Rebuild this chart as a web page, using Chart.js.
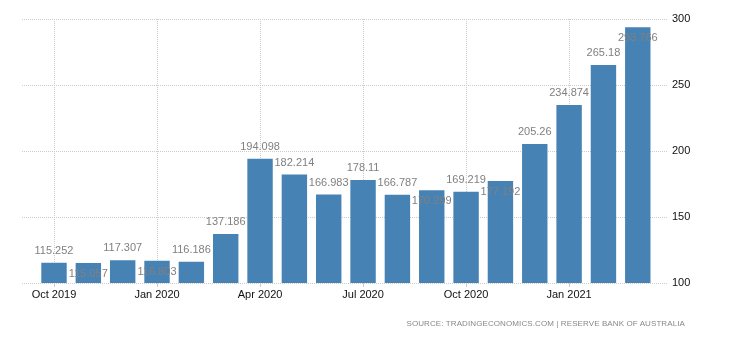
<!DOCTYPE html>
<html>
<head>
<meta charset="utf-8">
<script src="https://cdn.jsdelivr.net/npm/chart.js@4.4.1/dist/chart.umd.min.js"></script>
<style>
    body { margin: 0; background: #fff; }
    #wrap { position: relative; width: 730px; height: 340px; }
    #source {
        position: absolute; right: 45px; top: 319px;
        font: 8px "Liberation Sans", Arial, sans-serif;
        color: #888; letter-spacing: 0.1px; white-space: nowrap;
    }
</style>
</head>
<body>
<div id="wrap">
    <canvas id="reserveChart" width="730" height="340"></canvas>
    <div id="source">SOURCE: TRADINGECONOMICS.COM | RESERVE BANK OF AUSTRALIA</div>
</div>
<script>
const months = ["Oct 2019", "Nov 2019", "Dec 2019", "Jan 2020", "Feb 2020", "Mar 2020",
    "Apr 2020", "May 2020", "Jun 2020", "Jul 2020", "Aug 2020", "Sep 2020",
    "Oct 2020", "Nov 2020", "Dec 2020", "Jan 2021", "Feb 2021", "Mar 2021"];
const values = [115.252, 115.057, 117.307, 116.803, 116.186, 137.186,
    194.098, 182.214, 166.983, 178.11, 166.787, 170.299,
    169.219, 177.192, 205.26, 234.874, 265.18, 293.766];
const tickIndexes = [0, 3, 6, 9, 12, 15];
const yTicks = [100, 150, 200, 250, 300];

// value labels above bars, pushed inside when they would collide or clip
const barValueLabels = {
    id: "barValueLabels",
    afterDatasetsDraw(chart) {
        let ctx = chart.ctx;
        let meta = chart.getDatasetMeta(0);
        let area = chart.chartArea;
        let prevY = null;
        ctx.save();
        ctx.font = '11px "Liberation Sans", Arial, sans-serif';
        ctx.fillStyle = "#808080";
        ctx.textAlign = "center";
        ctx.textBaseline = "middle";
        meta.data.forEach(function (bar, i) {
            let y = bar.y - 12;
            if (y - 6 < area.top || (prevY !== null && Math.abs(y - prevY) < 12)) {
                y = bar.y + 11;
            }
            ctx.fillText(String(values[i]), bar.x, y);
            prevY = y;
        });
        ctx.restore();
    }
};

let chartCanvas = document.getElementById("reserveChart").getContext("2d");
let reserveChart = new Chart(chartCanvas, {
    type: "bar",
    data: {
        datasets: [{
            data: values.map((v, i) => ({ x: i, y: v })),
            backgroundColor: "#4682b4",
            borderWidth: 0,
            categoryPercentage: 1,
            barPercentage: 0.74
        }]
    },
    options: {
        responsive: false,
        animation: false,
        layout: {
            padding: { left: 22, top: 19, right: 0, bottom: 35 }
        },
        plugins: {
            legend: { display: false },
            tooltip: { enabled: false }
        },
        scales: {
            x: {
                type: "linear",
                offset: false,
                min: -0.932,
                max: 17.88,
                afterBuildTicks: function (scale) {
                    scale.ticks = tickIndexes.map(v => ({ value: v }));
                },
                afterFit: function (scale) { scale.height = 22; },
                grid: {
                    offset: false,
                    color: "#cccccc",
                    lineWidth: 1,
                    drawTicks: true,
                    tickLength: 4
                },
                border: { display: false, dash: [1, 1] },
                ticks: {
                    autoSkip: false,
                    maxRotation: 0,
                    padding: 1,
                    color: "#111",
                    font: { family: '"Liberation Sans", Arial, sans-serif', size: 11 },
                    callback: function (v) { return months[v]; }
                }
            },
            y: {
                position: "right",
                min: 100,
                max: 300,
                afterBuildTicks: function (scale) {
                    scale.ticks = yTicks.map(v => ({ value: v }));
                },
                afterFit: function (scale) { scale.width = 62; },
                grid: {
                    color: "#cccccc",
                    lineWidth: 1,
                    drawTicks: false
                },
                border: { display: false, dash: [1, 1] },
                ticks: {
                    padding: 4,
                    color: "#111",
                    font: { family: '"Liberation Sans", Arial, sans-serif', size: 11 }
                }
            }
        }
    },
    plugins: [barValueLabels]
});
</script>
</body>
</html>
